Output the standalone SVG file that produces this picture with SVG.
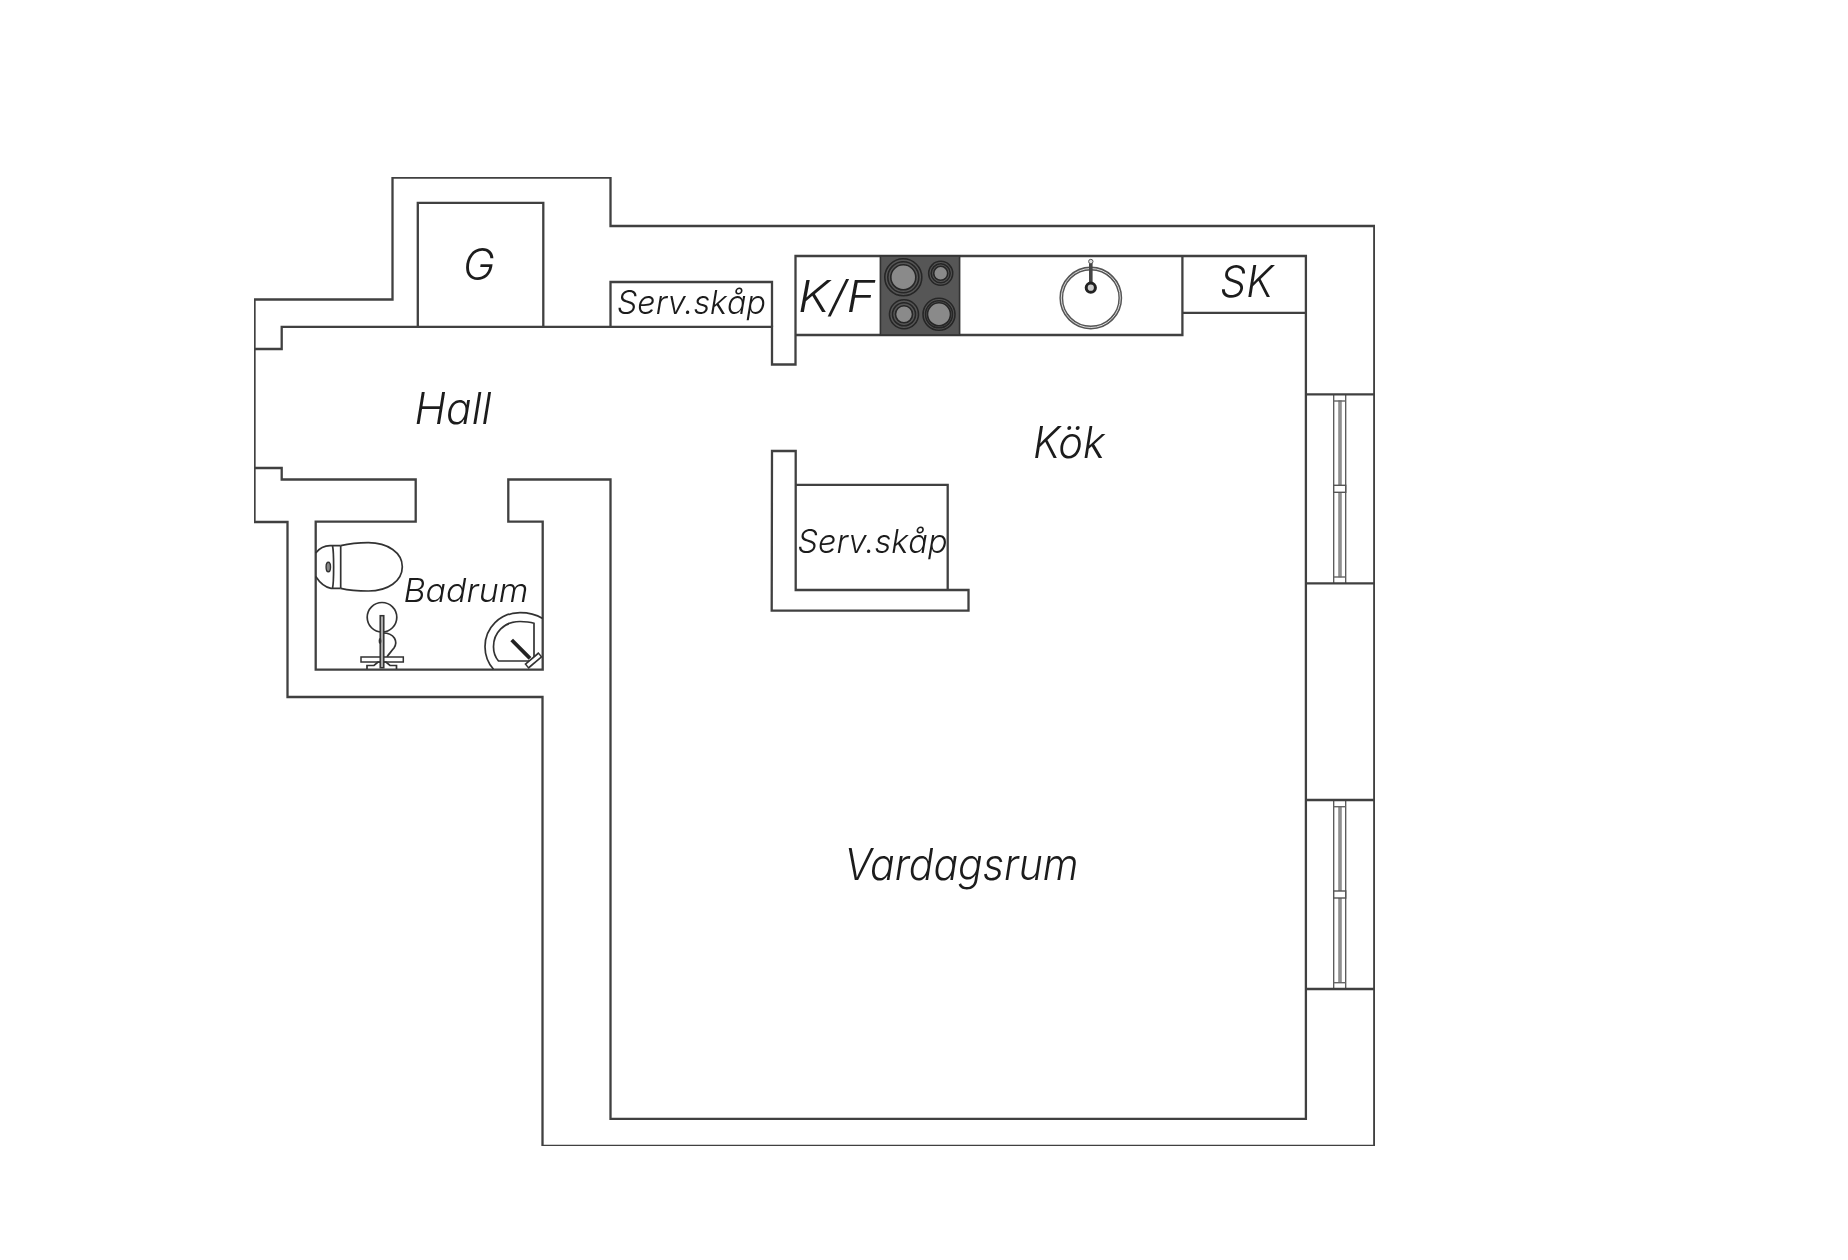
<svg xmlns="http://www.w3.org/2000/svg" width="1848" height="1260" viewBox="0 0 1848 1260">
<style>
.w{fill:none;stroke:#404040;stroke-width:2.3;stroke-linejoin:miter}
.t{fill:none;stroke:#333;stroke-width:1.7}
.g{fill:none;stroke:#555;stroke-width:1.3}
text{font-family:"Inter","Open Sans","Liberation Sans",sans-serif;font-style:italic;font-weight:300;fill:#1a1a1a}
.l{font-size:43px}.s{font-size:33px}
</style>
<defs>
<filter id="soft" x="0" y="0" width="100%" height="100%"><feGaussianBlur stdDeviation="0.45"/></filter>
<g id="win">
<path class="g" d="M1333.7 0V189M1345.7 0V189"/>
<rect x="1338.2" y="6" width="3.6" height="177" fill="#8f8f8f" stroke="none"/>
<rect x="1333.7" y="6" width="12" height="1.4" fill="#666"/>
<rect x="1333.7" y="182" width="12" height="1.4" fill="#666"/>
<rect x="1333.7" y="91" width="12" height="7" fill="#fff" stroke="#555" stroke-width="1.4"/>
<path class="w" d="M1306 0H1374.3M1306 189H1374.3"/>
</g>
</defs>
<rect width="1848" height="1260" fill="#fff"/>
<g filter="url(#soft)">
<g id="walls">
<path class="w" d="M392.5 177.5H610.5V226H1374.3V1146H542.5V697H287.5V522H254.5V299.5H392.5Z"/>
<path class="w" d="M254.5 349H281.7V326.8H772V364.5H795.5V256H1305.9V1118.8H610.5V479.5H508.3V521.7H542.7V669.6H315.7V521.7H415.7V479.5H281.7V468H254.5"/>
<path class="w" d="M772 451H795.7V590H968.5V610.7H771.7Z"/>
</g>
<g id="storage">
<path class="w" d="M417.8 326.8V202.9H543.3V326.8"/>
<path class="w" d="M610.5 326.8V282H772V326.8"/>
<path class="w" d="M795.7 484.8H947.7V590"/>
<path class="w" d="M795.5 335H1182.4V256M1182.4 312.8H1305.9"/>
</g>
<g id="hob">
<rect x="880.4" y="256" width="79.2" height="79" fill="#565656" stroke="#333" stroke-width="1.6"/>
<g fill="#8a8a8a" stroke="#262626" stroke-width="1.6">
<circle cx="903.3" cy="277.3" r="12.5"/><circle cx="940.7" cy="273.3" r="7"/><circle cx="904" cy="314.3" r="8.5"/><circle cx="939" cy="314.3" r="11.5"/>
</g>
<g fill="none" stroke="#262626" stroke-width="1.6">
<circle cx="903.3" cy="277.3" r="18.5"/><circle cx="903.3" cy="277.3" r="15.5"/>
<circle cx="940.7" cy="273.3" r="12"/><circle cx="940.7" cy="273.3" r="9.5"/>
<circle cx="904" cy="314.3" r="14.5"/><circle cx="904" cy="314.3" r="11.5"/>
<circle cx="939" cy="314.3" r="16"/><circle cx="939" cy="314.3" r="13.5"/>
</g>
</g>
<g id="kitchen-sink">
<circle cx="1090.8" cy="298" r="29.5" fill="none" stroke="#555" stroke-width="3.8"/>
<circle cx="1090.8" cy="298" r="29.5" fill="none" stroke="#ddd" stroke-width="1"/>
<path d="M1090.8 263V287" stroke="#444" stroke-width="3.6" fill="none"/>
<circle cx="1090.8" cy="261.5" r="2.2" fill="#ddd" stroke="#555" stroke-width="1"/>
<circle cx="1090.8" cy="287.7" r="4.6" fill="#ccc" stroke="#222" stroke-width="3"/>
</g>
<g id="windows">
<use href="#win" y="394.3"/>
<use href="#win" y="800"/>
</g>
<g id="toilet">
<path class="t" d="M340.7 545.7C350 543.5 358 542.7 368.3 542.7C388 542.7 402.3 553 402.3 566.7C402.3 581 388 591 368.3 591C358 591 350 590.5 340.7 588.3"/>
<path class="t" d="M340.7 545.7V588.3"/>
<path class="t" d="M315.7 553C320 547.5 326 545.5 331 545.7H340.7M315.7 576.5C320 583 326 587.5 331 588.3H340.7M332.5 545.7C334 552 334 582 332.5 588.3"/>
<ellipse cx="328.3" cy="567" rx="2.2" ry="4.8" fill="#888" stroke="#333" stroke-width="1.4"/>
</g>
<g id="bidet">
<circle cx="382" cy="617.3" r="14.8" class="t"/>
<path class="t" d="M383 633C395 633 398 642 394 648C390 653 388 655 387 657"/>
<rect x="361" y="657" width="42.3" height="5" fill="#fff" stroke="#333" stroke-width="1.5"/>
<path class="t" d="M367 669V665.5H374L378 662H386L390 665.5H396.5V669"/>
<rect x="380.2" y="615.7" width="3.6" height="52" fill="#aaa" stroke="#333" stroke-width="1.5"/>
<ellipse cx="380" cy="641" rx="1.4" ry="3" fill="#333"/>
</g>
<g id="basin">
<path class="t" d="M542.7 618.5C536 614.5 529 612.7 520 612.7C500 612.7 485 628 485 646.7C485 655 488 663 493.5 669.3"/>
<path class="t" d="M534 623.3C530 622 525 621.5 520 621.5C504 621.5 493.5 633 493.5 646.7C493.5 652 495.5 657.5 498.5 661H534Z"/>
<path d="M511.7 640L530 658.3" stroke="#222" stroke-width="3.8"/>
<path d="M526.5 666.5L540.5 654.5" stroke="#333" stroke-width="6.5"/>
<path d="M527.5 665.5L539.5 655.5" stroke="#fff" stroke-width="3"/>
</g>
<g id="labels">
<text class="l" x="463" y="280">G</text>
<text class="l" x="414.5" y="424" textLength="77" lengthAdjust="spacingAndGlyphs">Hall</text>
<text class="s" x="617" y="314" textLength="149" lengthAdjust="spacingAndGlyphs">Serv.skåp</text>
<text class="l" x="798" y="311.5" textLength="77" lengthAdjust="spacingAndGlyphs">K/F</text>
<text class="l" x="1220" y="297" textLength="53" lengthAdjust="spacingAndGlyphs">SK</text>
<text class="l" x="1033" y="458" textLength="72" lengthAdjust="spacingAndGlyphs">Kök</text>
<text class="s" x="797.5" y="553" textLength="150" lengthAdjust="spacingAndGlyphs">Serv.skåp</text>
<text class="s" x="403.5" y="601.5" textLength="125" lengthAdjust="spacingAndGlyphs">Badrum</text>
<text class="l" x="844.5" y="880" textLength="234" lengthAdjust="spacingAndGlyphs">Vardagsrum</text>
</g>
</g>
</svg>
